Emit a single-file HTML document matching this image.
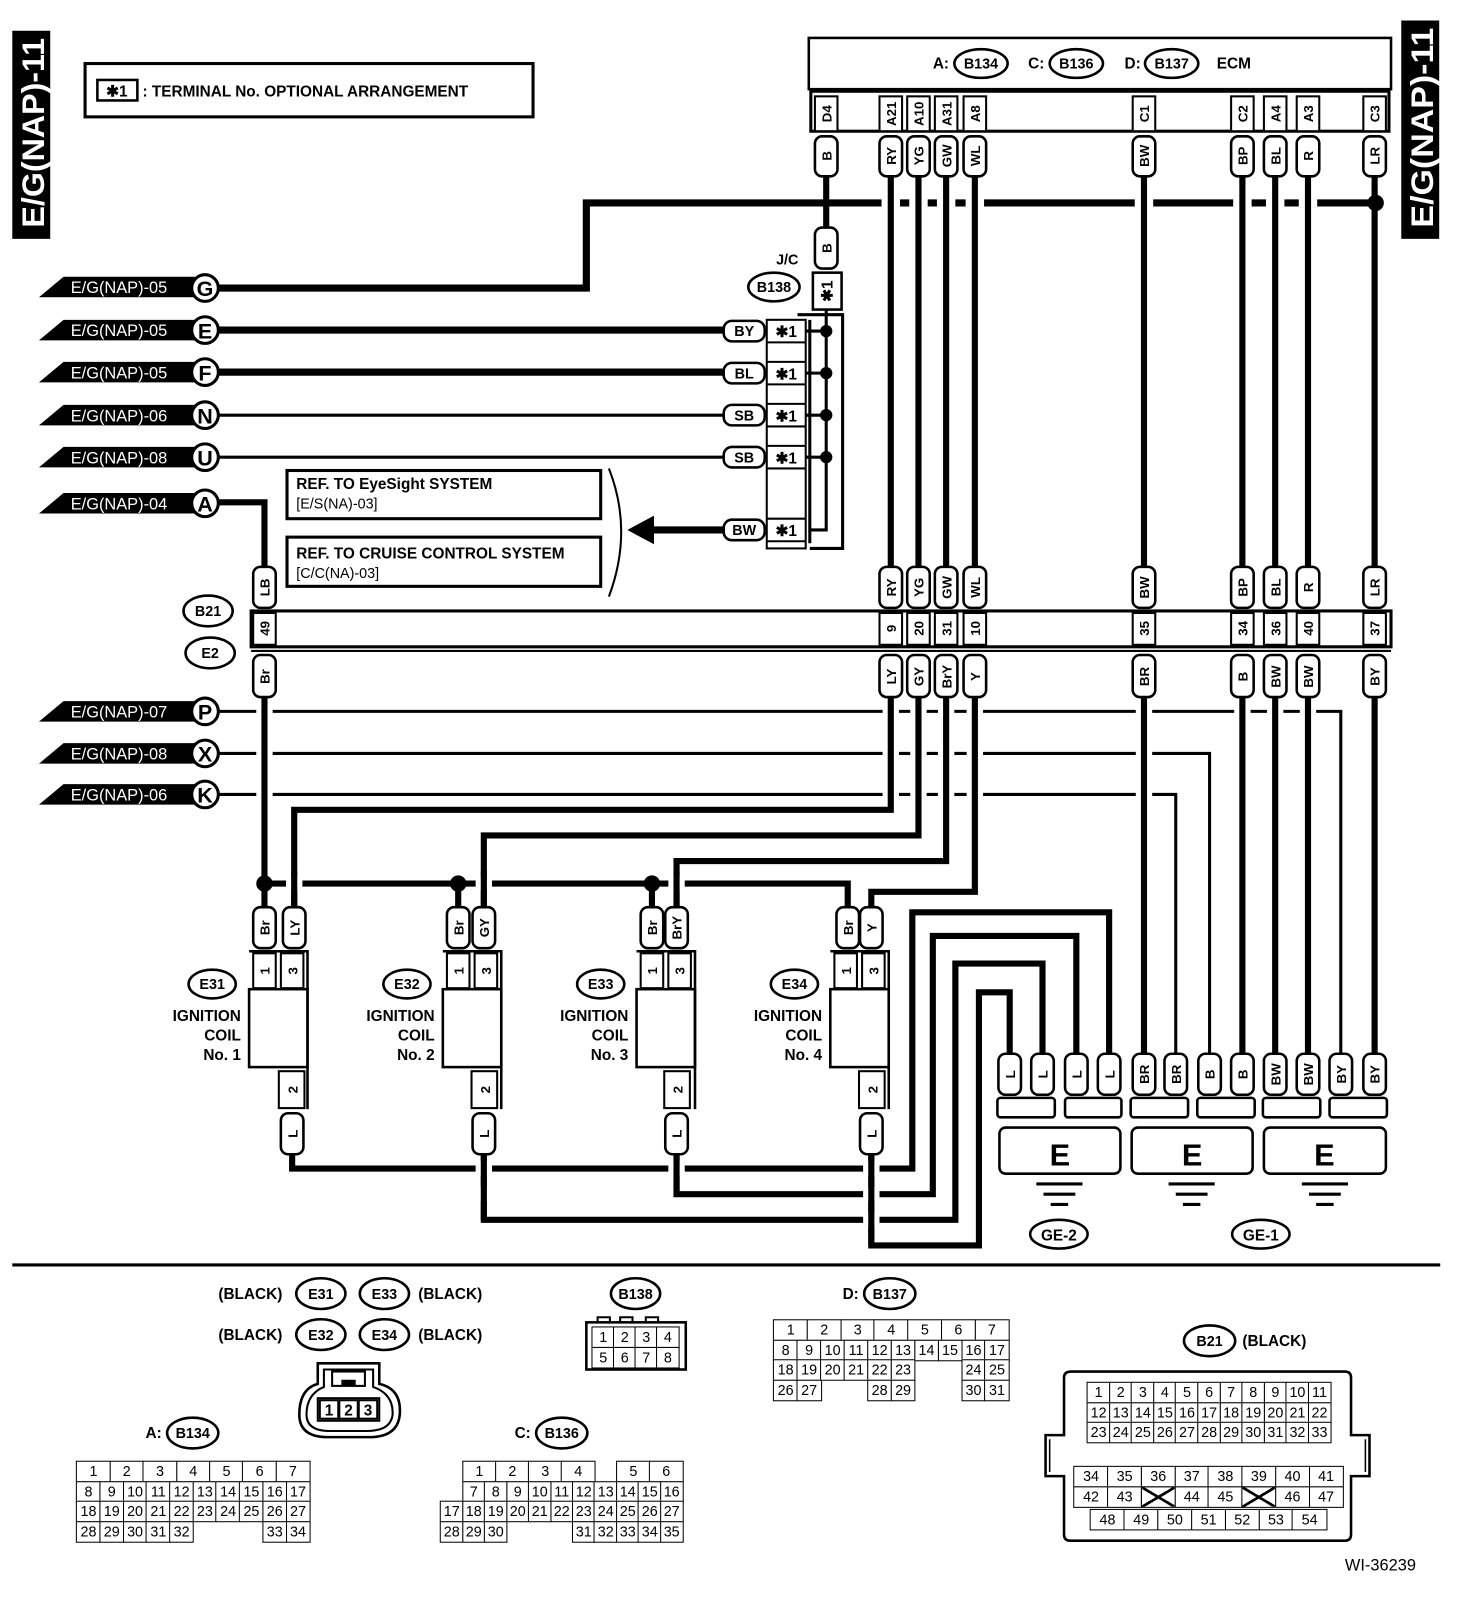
<!DOCTYPE html>
<html><head><meta charset="utf-8">
<style>
html,body{margin:0;padding:0;background:#fff;width:1472px;height:1606px;overflow:hidden}
#w{position:absolute;left:0;top:0;width:1436px;height:1567px;transform:scale(1.02507);transform-origin:0 0}
svg{position:absolute;left:0;top:0}
text{font-family:"Liberation Sans Narrow","Liberation Sans",sans-serif;font-weight:bold;fill:#000}
.p{fill:#fff;stroke:#000;stroke-width:2.5}
.c{fill:#fff;stroke:#000;stroke-width:2}
.k{fill:none;stroke:#000;stroke-width:6}
.n{fill:none;stroke:#000;stroke-width:3}
.m{text-anchor:middle}
.tg{fill:#fff;font-weight:normal;font-size:16px}
.g{position:absolute;font-family:"Liberation Sans Narrow","Liberation Sans",sans-serif;font-size:14px}
.r{display:flex}
.r span{box-sizing:border-box;border:1.5px solid #000;height:21px;text-align:center;line-height:18px;flex:1;margin:0 -0.75px -1.5px -0.75px;background:#fff}
.r span.e{border-color:transparent;background:transparent}
</style></head><body><div id="w">
<svg width="1436" height="1567" viewBox="0 0 1436 1567">
<!-- side tabs -->
<rect x="12" y="30" width="37" height="203" fill="#000"/>
<text transform="translate(43,222) rotate(-90)" style="fill:#fff;font-size:31px" textLength="185" lengthAdjust="spacingAndGlyphs">E/G(NAP)-11</text>
<rect x="1367" y="20" width="37" height="213" fill="#000"/>
<text transform="translate(1398,222) rotate(-90)" style="fill:#fff;font-size:31px" textLength="195" lengthAdjust="spacingAndGlyphs">E/G(NAP)-11</text>
<!-- note -->
<rect x="83" y="62" width="437" height="52" fill="none" stroke="#000" stroke-width="3"/>
<rect x="95" y="78" width="39" height="20" fill="none" stroke="#000" stroke-width="2.5"/>
<text x="114" y="94" class="m" style="font-size:15px">✱1</text>
<text x="139" y="94" style="font-size:15px">: TERMINAL No. OPTIONAL ARRANGEMENT</text>
<!-- ECM -->
<rect x="789" y="37" width="568" height="50" fill="none" stroke="#000" stroke-width="2.5"/>
<text x="910" y="67" style="font-size:15px">A:</text>
<ellipse cx="957" cy="62" rx="26" ry="14" class="p"/><text x="957" y="67" class="m" style="font-size:14px">B134</text>
<text x="1003" y="67" style="font-size:15px">C:</text>
<ellipse cx="1050" cy="62" rx="26" ry="14" class="p"/><text x="1050" y="67" class="m" style="font-size:14px">B136</text>
<text x="1097" y="67" style="font-size:15px">D:</text>
<ellipse cx="1143" cy="62" rx="26" ry="14" class="p"/><text x="1143" y="67" class="m" style="font-size:14px">B137</text>
<text x="1187" y="67" style="font-size:15px">ECM</text>
<rect x="791" y="89" width="564" height="39" fill="none" stroke="#000" stroke-width="3"/>
<g style="font-size:13px">
<rect x="795" y="94" width="22" height="34" class="c"/><text transform="translate(811,111) rotate(-90)" class="m">D4</text>
<rect x="858" y="94" width="22" height="34" class="c"/><text transform="translate(874,111) rotate(-90)" class="m">A21</text>
<rect x="885" y="94" width="22" height="34" class="c"/><text transform="translate(901,111) rotate(-90)" class="m">A10</text>
<rect x="912" y="94" width="22" height="34" class="c"/><text transform="translate(928,111) rotate(-90)" class="m">A31</text>
<rect x="940" y="94" width="22" height="34" class="c"/><text transform="translate(956,111) rotate(-90)" class="m">A8</text>
<rect x="1105" y="94" width="22" height="34" class="c"/><text transform="translate(1121,111) rotate(-90)" class="m">C1</text>
<rect x="1201" y="94" width="22" height="34" class="c"/><text transform="translate(1217,111) rotate(-90)" class="m">C2</text>
<rect x="1233" y="94" width="22" height="34" class="c"/><text transform="translate(1249,111) rotate(-90)" class="m">A4</text>
<rect x="1265" y="94" width="22" height="34" class="c"/><text transform="translate(1281,111) rotate(-90)" class="m">A3</text>
<rect x="1330" y="94" width="22" height="34" class="c"/><text transform="translate(1346,111) rotate(-90)" class="m">C3</text>
</g>
<!-- top bus -->
<path d="M213 281 H572 V198 H1342" class="k" style="stroke-width:7"/>
<g fill="#fff">
<rect x="860" y="190" width="18" height="16"/><rect x="887" y="190" width="18" height="16"/><rect x="914" y="190" width="18" height="16"/><rect x="942" y="190" width="18" height="16"/>
<rect x="1107" y="190" width="18" height="16"/><rect x="1203" y="190" width="18" height="16"/><rect x="1235" y="190" width="18" height="16"/><rect x="1267" y="190" width="18" height="16"/>
</g>
<circle cx="1342" cy="198" r="8"/>
<g class="k">
<path d="M806 172 V222"/>
<path d="M869 172 V553"/><path d="M896 172 V553"/><path d="M923 172 V553"/><path d="M951 172 V553"/>
<path d="M1116 172 V553"/><path d="M1212 172 V553"/><path d="M1244 172 V553"/><path d="M1276 172 V553"/><path d="M1341 172 V553"/>
</g>
<!-- top pills -->
<g style="font-size:13px">
<rect x="795" y="133" width="22" height="39" rx="7" class="p"/><text transform="translate(811,152) rotate(-90)" class="m">B</text>
<rect x="858" y="133" width="22" height="39" rx="7" class="p"/><text transform="translate(874,152) rotate(-90)" class="m">RY</text>
<rect x="885" y="133" width="22" height="39" rx="7" class="p"/><text transform="translate(901,152) rotate(-90)" class="m">YG</text>
<rect x="912" y="133" width="22" height="39" rx="7" class="p"/><text transform="translate(928,152) rotate(-90)" class="m">GW</text>
<rect x="940" y="133" width="22" height="39" rx="7" class="p"/><text transform="translate(956,152) rotate(-90)" class="m">WL</text>
<rect x="1105" y="133" width="22" height="39" rx="7" class="p"/><text transform="translate(1121,152) rotate(-90)" class="m">BW</text>
<rect x="1201" y="133" width="22" height="39" rx="7" class="p"/><text transform="translate(1217,152) rotate(-90)" class="m">BP</text>
<rect x="1233" y="133" width="22" height="39" rx="7" class="p"/><text transform="translate(1249,152) rotate(-90)" class="m">BL</text>
<rect x="1265" y="133" width="22" height="39" rx="7" class="p"/><text transform="translate(1281,152) rotate(-90)" class="m">R</text>
<rect x="1330" y="133" width="22" height="39" rx="7" class="p"/><text transform="translate(1346,152) rotate(-90)" class="m">LR</text>
</g>
<!-- J/C -->
<text x="768" y="258" class="m" style="font-size:14px">J/C</text>
<ellipse cx="755" cy="280" rx="25" ry="14" class="p"/><text x="755" y="285" class="m" style="font-size:14px">B138</text>
<rect x="795" y="222" width="22" height="40" rx="7" class="p"/><text transform="translate(811,242) rotate(-90)" class="m" style="font-size:13px">B</text>
<rect x="793" y="266" width="28" height="36" class="p"/><text transform="translate(812,284) rotate(-90)" class="m" style="font-size:15px">✱1</text>
<path d="M778 307 H822 V535 H790" class="n"/>
<path d="M790 312 V530" class="n"/>
<path d="M806 302 V517 H790" class="n"/>
<g><circle cx="806" cy="323" r="6"/><circle cx="806" cy="364" r="6"/><circle cx="806" cy="405" r="6"/><circle cx="806" cy="446" r="6"/></g>
<g class="n"><path d="M786 323 H806"/><path d="M786 364 H806"/><path d="M786 405 H806"/><path d="M786 446 H806"/></g>
<rect x="748" y="312" width="38" height="223" fill="none" stroke="#000" stroke-width="2"/>
<g fill="none" stroke="#000" stroke-width="2"><path d="M748 334 H786 M748 353 H786 M748 375 H786 M748 394 H786 M748 416 H786 M748 435 H786 M748 457 H786 M748 506 H786 M748 528 H786"/></g>
<g style="font-size:15px" class="m"><text x="767" y="329">✱1</text><text x="767" y="370">✱1</text><text x="767" y="411">✱1</text><text x="767" y="452">✱1</text><text x="767" y="523">✱1</text></g>
<!-- left source lines -->
<path d="M213 322 H706" class="k" style="stroke-width:7"/>
<path d="M213 363 H706" class="k" style="stroke-width:7"/>
<path d="M213 405 H706" class="n"/>
<path d="M213 446 H706" class="n"/>
<path d="M706 517 H636" class="k" style="stroke-width:7"/>
<polygon points="612,517 638,503 638,531"/>
<g style="font-size:14px">
<rect x="706" y="313" width="40" height="20" rx="8" class="p"/><text x="726" y="328" class="m">BY</text>
<rect x="706" y="354" width="40" height="20" rx="8" class="p"/><text x="726" y="369" class="m">BL</text>
<rect x="706" y="395" width="40" height="20" rx="8" class="p"/><text x="726" y="410" class="m">SB</text>
<rect x="706" y="436" width="40" height="20" rx="8" class="p"/><text x="726" y="451" class="m">SB</text>
<rect x="706" y="507" width="40" height="20" rx="8" class="p"/><text x="726" y="522" class="m">BW</text>
</g>
<!-- ref boxes -->
<rect x="280" y="459" width="306" height="47" fill="none" stroke="#000" stroke-width="3"/>
<text x="289" y="477" style="font-size:15px">REF. TO EyeSight SYSTEM</text>
<text x="289" y="496" style="font-size:14px;font-weight:normal">[E/S(NA)-03]</text>
<rect x="280" y="524" width="306" height="48" fill="none" stroke="#000" stroke-width="3"/>
<text x="289" y="545" style="font-size:15px">REF. TO CRUISE CONTROL SYSTEM</text>
<text x="289" y="564" style="font-size:14px;font-weight:normal">[C/C(NA)-03]</text>
<path d="M594 457 Q618 518 594 582" fill="none" stroke="#000" stroke-width="2"/>
<!-- A line -->
<path d="M213 490 H258 V558" class="k"/>
<!-- tags -->
<g>
<polygon points="38,290 62,270 190,270 190,290"/><text x="69" y="286" class="tg">E/G(NAP)-05</text>
<polygon points="38,332 62,312 190,312 190,332"/><text x="69" y="328" class="tg">E/G(NAP)-05</text>
<polygon points="38,373 62,353 190,353 190,373"/><text x="69" y="369" class="tg">E/G(NAP)-05</text>
<polygon points="38,415 62,395 190,395 190,415"/><text x="69" y="411" class="tg">E/G(NAP)-06</text>
<polygon points="38,456 62,436 190,436 190,456"/><text x="69" y="452" class="tg">E/G(NAP)-08</text>
<polygon points="38,501 62,481 190,481 190,501"/><text x="69" y="497" class="tg">E/G(NAP)-04</text>
<polygon points="38,704 62,684 190,684 190,704"/><text x="69" y="700" class="tg">E/G(NAP)-07</text>
<polygon points="38,745 62,725 190,725 190,745"/><text x="69" y="741" class="tg">E/G(NAP)-08</text>
<polygon points="38,785 62,765 190,765 190,785"/><text x="69" y="781" class="tg">E/G(NAP)-06</text>
</g>
<g style="font-size:21px" class="m">
<circle cx="200" cy="281" r="13" class="p" style="stroke-width:3"/><text x="200" y="289">G</text>
<circle cx="200" cy="322" r="13" class="p" style="stroke-width:3"/><text x="200" y="330">E</text>
<circle cx="200" cy="363" r="13" class="p" style="stroke-width:3"/><text x="200" y="371">F</text>
<circle cx="200" cy="405" r="13" class="p" style="stroke-width:3"/><text x="200" y="413">N</text>
<circle cx="200" cy="446" r="13" class="p" style="stroke-width:3"/><text x="200" y="454">U</text>
<circle cx="200" cy="491" r="13" class="p" style="stroke-width:3"/><text x="200" y="499">A</text>
<circle cx="200" cy="694" r="13" class="p" style="stroke-width:3"/><text x="200" y="702">P</text>
<circle cx="200" cy="735" r="13" class="p" style="stroke-width:3"/><text x="200" y="743">X</text>
<circle cx="200" cy="775" r="13" class="p" style="stroke-width:3"/><text x="200" y="783">K</text>
</g>
<!-- B21/E2 band -->
<ellipse cx="203" cy="596" rx="24" ry="15" class="p"/><text x="203" y="601" class="m" style="font-size:14px">B21</text>
<ellipse cx="205" cy="637" rx="24" ry="15" class="p"/><text x="205" y="642" class="m" style="font-size:14px">E2</text>
<rect x="245" y="596" width="1112" height="35" fill="none" stroke="#000" stroke-width="3"/>
<path d="M245 635 H1357" stroke="#000" stroke-width="2"/>
<g style="font-size:13px">
<rect x="247" y="598" width="22" height="31" class="c"/><text transform="translate(263,613) rotate(-90)" class="m">49</text>
<rect x="858" y="598" width="22" height="31" class="c"/><text transform="translate(874,613) rotate(-90)" class="m">9</text>
<rect x="885" y="598" width="22" height="31" class="c"/><text transform="translate(901,613) rotate(-90)" class="m">20</text>
<rect x="912" y="598" width="22" height="31" class="c"/><text transform="translate(928,613) rotate(-90)" class="m">31</text>
<rect x="940" y="598" width="22" height="31" class="c"/><text transform="translate(956,613) rotate(-90)" class="m">10</text>
<rect x="1105" y="598" width="22" height="31" class="c"/><text transform="translate(1121,613) rotate(-90)" class="m">35</text>
<rect x="1201" y="598" width="22" height="31" class="c"/><text transform="translate(1217,613) rotate(-90)" class="m">34</text>
<rect x="1233" y="598" width="22" height="31" class="c"/><text transform="translate(1249,613) rotate(-90)" class="m">36</text>
<rect x="1265" y="598" width="22" height="31" class="c"/><text transform="translate(1281,613) rotate(-90)" class="m">40</text>
<rect x="1330" y="598" width="22" height="31" class="c"/><text transform="translate(1346,613) rotate(-90)" class="m">37</text>
</g>
<!-- thin lines P X K -->
<path d="M213 694 H1308 V1028" class="n"/>
<path d="M213 735 H1180 V1028" class="n"/>
<path d="M213 775 H1147 V1028" class="n"/>
<g fill="#fff">
<rect x="250" y="685" width="16" height="100"/>
<rect x="861" y="685" width="16" height="100"/><rect x="888" y="685" width="16" height="100"/><rect x="915" y="685" width="16" height="100"/><rect x="943" y="685" width="16" height="100"/>
<rect x="1108" y="685" width="16" height="100"/>
<rect x="1204" y="685" width="16" height="20"/><rect x="1236" y="685" width="16" height="20"/><rect x="1268" y="685" width="16" height="20"/>
</g>
<g class="k">
<path d="M258 680 V862"/>
<path d="M869 680 V790 H287 V885"/>
<path d="M896 680 V815 H472 V885"/>
<path d="M923 680 V840 H660 V885"/>
<path d="M951 680 V870 H850 V885"/>
<path d="M1116 680 V1028"/><path d="M1212 680 V1028"/><path d="M1244 680 V1028"/><path d="M1276 680 V1028"/><path d="M1341 680 V1028"/>
</g>
<!-- Br bus -->
<path d="M258 862 H827 V885" class="k"/>
<g fill="#fff"><rect x="279" y="855" width="16" height="14"/><rect x="464" y="855" width="16" height="14"/><rect x="652" y="855" width="16" height="14"/></g>
<path d="M287 850 V885 M472 850 V885 M660 850 V885" class="k"/>
<path d="M258 862 V885 M447 862 V885 M636 862 V885" class="k"/>
<circle cx="258" cy="862" r="8"/><circle cx="447" cy="862" r="8"/><circle cx="636" cy="862" r="8"/>
<!-- B21 pills -->
<g style="font-size:13px">
<rect x="247" y="553" width="22" height="40" rx="7" class="p"/><text transform="translate(263,573) rotate(-90)" class="m">LB</text>
<rect x="858" y="553" width="22" height="40" rx="7" class="p"/><text transform="translate(874,573) rotate(-90)" class="m">RY</text>
<rect x="885" y="553" width="22" height="40" rx="7" class="p"/><text transform="translate(901,573) rotate(-90)" class="m">YG</text>
<rect x="912" y="553" width="22" height="40" rx="7" class="p"/><text transform="translate(928,573) rotate(-90)" class="m">GW</text>
<rect x="940" y="553" width="22" height="40" rx="7" class="p"/><text transform="translate(956,573) rotate(-90)" class="m">WL</text>
<rect x="1105" y="553" width="22" height="40" rx="7" class="p"/><text transform="translate(1121,573) rotate(-90)" class="m">BW</text>
<rect x="1201" y="553" width="22" height="40" rx="7" class="p"/><text transform="translate(1217,573) rotate(-90)" class="m">BP</text>
<rect x="1233" y="553" width="22" height="40" rx="7" class="p"/><text transform="translate(1249,573) rotate(-90)" class="m">BL</text>
<rect x="1265" y="553" width="22" height="40" rx="7" class="p"/><text transform="translate(1281,573) rotate(-90)" class="m">R</text>
<rect x="1330" y="553" width="22" height="40" rx="7" class="p"/><text transform="translate(1346,573) rotate(-90)" class="m">LR</text>
<rect x="247" y="639" width="22" height="41" rx="7" class="p"/><text transform="translate(263,660) rotate(-90)" class="m">Br</text>
<rect x="858" y="639" width="22" height="41" rx="7" class="p"/><text transform="translate(874,660) rotate(-90)" class="m">LY</text>
<rect x="885" y="639" width="22" height="41" rx="7" class="p"/><text transform="translate(901,660) rotate(-90)" class="m">GY</text>
<rect x="912" y="639" width="22" height="41" rx="7" class="p"/><text transform="translate(928,660) rotate(-90)" class="m">BrY</text>
<rect x="940" y="639" width="22" height="41" rx="7" class="p"/><text transform="translate(956,660) rotate(-90)" class="m">Y</text>
<rect x="1105" y="639" width="22" height="41" rx="7" class="p"/><text transform="translate(1121,660) rotate(-90)" class="m">BR</text>
<rect x="1201" y="639" width="22" height="41" rx="7" class="p"/><text transform="translate(1217,660) rotate(-90)" class="m">B</text>
<rect x="1233" y="639" width="22" height="41" rx="7" class="p"/><text transform="translate(1249,660) rotate(-90)" class="m">BW</text>
<rect x="1265" y="639" width="22" height="41" rx="7" class="p"/><text transform="translate(1281,660) rotate(-90)" class="m">BW</text>
<rect x="1330" y="639" width="22" height="41" rx="7" class="p"/><text transform="translate(1346,660) rotate(-90)" class="m">BY</text>
</g>
<!-- ground return wires -->
<g class="k">
<path d="M285 1125 V1140 H890 V890 H1082 V1028"/>
<path d="M660 1125 V1165 H910 V913 H1050 V1028"/>
<path d="M472 1125 V1190 H932 V940 H1017 V1028"/>
<path d="M985 1028 V968 H955 V1215 H850 V1125"/>
</g>
<g fill="#fff">
<rect x="464" y="1133" width="16" height="14"/><rect x="652" y="1133" width="16" height="14"/><rect x="842" y="1133" width="16" height="14"/>
<rect x="464" y="1158" width="16" height="14"/><rect x="842" y="1158" width="16" height="14"/>
<rect x="842" y="1183" width="16" height="14"/>
</g>
<path d="M472 1125 V1190 M660 1125 V1165 M850 1125 V1215" class="k"/>
<!-- coils -->
<g id="coils" style="font-size:13px">
<!-- coil 1 -->
<rect x="247" y="885" width="22" height="40" rx="7" class="p"/><text transform="translate(263,905) rotate(-90)" class="m">Br</text>
<rect x="276" y="885" width="22" height="40" rx="7" class="p"/><text transform="translate(292,905) rotate(-90)" class="m">LY</text>
<path d="M243 928 H300 V1082" fill="none" stroke="#000" stroke-width="2.5"/>
<rect x="247" y="930" width="22" height="34" class="c"/><text transform="translate(263,947) rotate(-90)" class="m">1</text>
<rect x="274" y="930" width="22" height="34" class="c"/><text transform="translate(290,947) rotate(-90)" class="m">3</text>
<rect x="243" y="965" width="57" height="76" fill="none" stroke="#000" stroke-width="2.5"/>
<rect x="272" y="1045" width="25" height="36" class="c"/><text transform="translate(290,1063) rotate(-90)" class="m">2</text>
<rect x="274" y="1086" width="22" height="40" rx="7" class="p"/><text transform="translate(290,1106) rotate(-90)" class="m">L</text>
<!-- coil 2 -->
<rect x="436" y="885" width="22" height="40" rx="7" class="p"/><text transform="translate(452,905) rotate(-90)" class="m">Br</text>
<rect x="461" y="885" width="22" height="40" rx="7" class="p"/><text transform="translate(477,905) rotate(-90)" class="m">GY</text>
<path d="M432 928 H489 V1082" fill="none" stroke="#000" stroke-width="2.5"/>
<rect x="436" y="930" width="22" height="34" class="c"/><text transform="translate(452,947) rotate(-90)" class="m">1</text>
<rect x="463" y="930" width="22" height="34" class="c"/><text transform="translate(479,947) rotate(-90)" class="m">3</text>
<rect x="432" y="965" width="57" height="76" fill="none" stroke="#000" stroke-width="2.5"/>
<rect x="460" y="1045" width="25" height="36" class="c"/><text transform="translate(478,1063) rotate(-90)" class="m">2</text>
<rect x="461" y="1086" width="22" height="40" rx="7" class="p"/><text transform="translate(477,1106) rotate(-90)" class="m">L</text>
<!-- coil 3 -->
<rect x="625" y="885" width="22" height="40" rx="7" class="p"/><text transform="translate(641,905) rotate(-90)" class="m">Br</text>
<rect x="649" y="885" width="22" height="40" rx="7" class="p"/><text transform="translate(665,905) rotate(-90)" class="m">BrY</text>
<path d="M621 928 H678 V1082" fill="none" stroke="#000" stroke-width="2.5"/>
<rect x="625" y="930" width="22" height="34" class="c"/><text transform="translate(641,947) rotate(-90)" class="m">1</text>
<rect x="652" y="930" width="22" height="34" class="c"/><text transform="translate(668,947) rotate(-90)" class="m">3</text>
<rect x="621" y="965" width="57" height="76" fill="none" stroke="#000" stroke-width="2.5"/>
<rect x="648" y="1045" width="25" height="36" class="c"/><text transform="translate(666,1063) rotate(-90)" class="m">2</text>
<rect x="649" y="1086" width="22" height="40" rx="7" class="p"/><text transform="translate(665,1106) rotate(-90)" class="m">L</text>
<!-- coil 4 -->
<rect x="816" y="885" width="22" height="40" rx="7" class="p"/><text transform="translate(832,905) rotate(-90)" class="m">Br</text>
<rect x="839" y="885" width="22" height="40" rx="7" class="p"/><text transform="translate(855,905) rotate(-90)" class="m">Y</text>
<path d="M810 928 H867 V1082" fill="none" stroke="#000" stroke-width="2.5"/>
<rect x="814" y="930" width="22" height="34" class="c"/><text transform="translate(830,947) rotate(-90)" class="m">1</text>
<rect x="841" y="930" width="22" height="34" class="c"/><text transform="translate(857,947) rotate(-90)" class="m">3</text>
<rect x="810" y="965" width="57" height="76" fill="none" stroke="#000" stroke-width="2.5"/>
<rect x="838" y="1045" width="25" height="36" class="c"/><text transform="translate(856,1063) rotate(-90)" class="m">2</text>
<rect x="839" y="1086" width="22" height="40" rx="7" class="p"/><text transform="translate(855,1106) rotate(-90)" class="m">L</text>
</g>
<g style="font-size:15px">
<ellipse cx="207" cy="960" rx="23" ry="14" class="p"/><text x="207" y="965" class="m" style="font-size:14px">E31</text>
<text x="235" y="996" text-anchor="end">IGNITION</text><text x="235" y="1015" text-anchor="end">COIL</text><text x="235" y="1034" text-anchor="end">No. 1</text>
<ellipse cx="397" cy="960" rx="23" ry="14" class="p"/><text x="397" y="965" class="m" style="font-size:14px">E32</text>
<text x="424" y="996" text-anchor="end">IGNITION</text><text x="424" y="1015" text-anchor="end">COIL</text><text x="424" y="1034" text-anchor="end">No. 2</text>
<ellipse cx="586" cy="960" rx="23" ry="14" class="p"/><text x="586" y="965" class="m" style="font-size:14px">E33</text>
<text x="613" y="996" text-anchor="end">IGNITION</text><text x="613" y="1015" text-anchor="end">COIL</text><text x="613" y="1034" text-anchor="end">No. 3</text>
<ellipse cx="775" cy="960" rx="23" ry="14" class="p"/><text x="775" y="965" class="m" style="font-size:14px">E34</text>
<text x="802" y="996" text-anchor="end">IGNITION</text><text x="802" y="1015" text-anchor="end">COIL</text><text x="802" y="1034" text-anchor="end">No. 4</text>
</g>
<!-- ground pills -->
<g style="font-size:13px">
<rect x="974" y="1028" width="22" height="40" rx="7" class="p"/><text transform="translate(990,1048) rotate(-90)" class="m">L</text>
<rect x="1006" y="1028" width="22" height="40" rx="7" class="p"/><text transform="translate(1022,1048) rotate(-90)" class="m">L</text>
<rect x="1039" y="1028" width="22" height="40" rx="7" class="p"/><text transform="translate(1055,1048) rotate(-90)" class="m">L</text>
<rect x="1071" y="1028" width="22" height="40" rx="7" class="p"/><text transform="translate(1087,1048) rotate(-90)" class="m">L</text>
<rect x="1105" y="1028" width="22" height="40" rx="7" class="p"/><text transform="translate(1121,1048) rotate(-90)" class="m">BR</text>
<rect x="1136" y="1028" width="22" height="40" rx="7" class="p"/><text transform="translate(1152,1048) rotate(-90)" class="m">BR</text>
<rect x="1169" y="1028" width="22" height="40" rx="7" class="p"/><text transform="translate(1185,1048) rotate(-90)" class="m">B</text>
<rect x="1201" y="1028" width="22" height="40" rx="7" class="p"/><text transform="translate(1217,1048) rotate(-90)" class="m">B</text>
<rect x="1233" y="1028" width="22" height="40" rx="7" class="p"/><text transform="translate(1249,1048) rotate(-90)" class="m">BW</text>
<rect x="1265" y="1028" width="22" height="40" rx="7" class="p"/><text transform="translate(1281,1048) rotate(-90)" class="m">BW</text>
<rect x="1297" y="1028" width="22" height="40" rx="7" class="p"/><text transform="translate(1313,1048) rotate(-90)" class="m">BY</text>
<rect x="1330" y="1028" width="22" height="40" rx="7" class="p"/><text transform="translate(1346,1048) rotate(-90)" class="m">BY</text>
</g>
<g fill="#fff" stroke="#000" stroke-width="2.5">
<rect x="973" y="1071" width="56" height="19" rx="3"/><rect x="1039" y="1071" width="55" height="19" rx="3"/>
<rect x="1103" y="1071" width="56" height="19" rx="3"/><rect x="1168" y="1071" width="56" height="19" rx="3"/>
<rect x="1232" y="1071" width="56" height="19" rx="3"/><rect x="1297" y="1071" width="56" height="19" rx="3"/>
<rect x="975" y="1100" width="118" height="45" rx="6"/><rect x="1104" y="1100" width="118" height="45" rx="6"/><rect x="1233" y="1100" width="119" height="45" rx="6"/>
</g>
<g style="font-size:30px;font-family:'Liberation Sans',sans-serif" class="m"><text x="1034" y="1137">E</text><text x="1163" y="1137">E</text><text x="1292" y="1137">E</text></g>
<g stroke="#000" stroke-width="3">
<path d="M1011 1155 H1056 M1018 1165 H1049 M1025 1175 H1042"/>
<path d="M1140 1155 H1185 M1147 1165 H1178 M1154 1175 H1171"/>
<path d="M1270 1155 H1315 M1277 1165 H1308 M1284 1175 H1301"/>
</g>
<ellipse cx="1033" cy="1204" rx="28" ry="14" class="p"/><text x="1033" y="1210" class="m" style="font-size:15px">GE-2</text>
<ellipse cx="1230" cy="1204" rx="28" ry="14" class="p"/><text x="1230" y="1210" class="m" style="font-size:15px">GE-1</text>
<!-- separator -->
<path d="M12 1234 H1405" stroke="#000" stroke-width="3"/>
<!-- bottom labels -->
<g style="font-size:15px">
<text x="213" y="1267">(BLACK)</text>
<ellipse cx="313" cy="1262" rx="24" ry="15" class="p"/><text x="313" y="1267" class="m" style="font-size:14px">E31</text>
<ellipse cx="375" cy="1262" rx="24" ry="15" class="p"/><text x="375" y="1267" class="m" style="font-size:14px">E33</text>
<text x="408" y="1267">(BLACK)</text>
<text x="213" y="1307">(BLACK)</text>
<ellipse cx="313" cy="1302" rx="24" ry="15" class="p"/><text x="313" y="1307" class="m" style="font-size:14px">E32</text>
<ellipse cx="375" cy="1302" rx="24" ry="15" class="p"/><text x="375" y="1307" class="m" style="font-size:14px">E34</text>
<text x="408" y="1307">(BLACK)</text>
<ellipse cx="620" cy="1262" rx="24" ry="15" class="p"/><text x="620" y="1267" class="m" style="font-size:14px">B138</text>
<text x="822" y="1267">D:</text>
<ellipse cx="868" cy="1262" rx="25" ry="15" class="p"/><text x="868" y="1267" class="m" style="font-size:14px">B137</text>
<ellipse cx="1180" cy="1308" rx="25" ry="15" class="p"/><text x="1180" y="1313" class="m" style="font-size:14px">B21</text>
<text x="1212" y="1313">(BLACK)</text>
<text x="142" y="1403">A:</text>
<ellipse cx="188" cy="1398" rx="25" ry="15" class="p"/><text x="188" y="1403" class="m" style="font-size:14px">B134</text>
<text x="502" y="1403">C:</text>
<ellipse cx="548" cy="1398" rx="25" ry="15" class="p"/><text x="548" y="1403" class="m" style="font-size:14px">B136</text>
<text x="1312" y="1532" style="font-weight:normal;font-size:16px">WI-36239</text>
</g>
<!-- coil connector icon -->
<path d="M310 1330 H370 V1350 Q392 1355 390 1380 Q388 1402 360 1402 H320 Q292 1402 292 1380 Q292 1355 310 1350 Z" fill="none" stroke="#000" stroke-width="2.5"/>
<path d="M316 1336 H364 V1353 Q384 1360 383 1380 Q381 1396 358 1396 H322 Q299 1396 299 1380 Q299 1360 316 1353 Z" fill="none" stroke="#000" stroke-width="2"/>
<rect x="324" y="1338" width="32" height="14" fill="none" stroke="#000" stroke-width="2"/>
<rect x="333" y="1346" width="14" height="6" fill="#000"/>
<rect x="310" y="1364" width="60" height="22" fill="none" stroke="#000" stroke-width="2"/>
<g style="font-size:15px;font-weight:normal" class="m">
<rect x="312" y="1366" width="18" height="18" class="c"/><text x="321" y="1381">1</text>
<rect x="331" y="1366" width="18" height="18" class="c"/><text x="340" y="1381">2</text>
<rect x="350" y="1366" width="18" height="18" class="c"/><text x="359" y="1381">3</text>
</g>
<!-- B138 outline -->
<rect x="572" y="1290" width="97" height="46" fill="none" stroke="#000" stroke-width="2.5"/>
<path d="M583 1290 V1285 H595 V1290 M605 1290 V1285 H617 V1290 M630 1290 V1285 H642 V1290" fill="none" stroke="#000" stroke-width="2"/>
<!-- B21 outline -->
<path d="M1045 1338 H1312 Q1318 1338 1318 1344 V1400 H1336 V1440 H1318 V1497 Q1318 1503 1312 1503 H1044 Q1038 1503 1038 1497 V1440 H1020 V1400 H1038 V1344 Q1038 1338 1045 1338 Z" fill="none" stroke="#000" stroke-width="2.5"/>
<path d="M1024 1404 V1436 M1332 1404 V1436" stroke="#000" stroke-width="1.5"/>
</svg>

<!-- A:B134 -->
<div class="g" style="left:75px;top:1425px;width:227px">
<div class="r"><span>1</span><span>2</span><span>3</span><span>4</span><span>5</span><span>6</span><span>7</span></div>
<div class="r"><span>8</span><span>9</span><span>10</span><span>11</span><span>12</span><span>13</span><span>14</span><span>15</span><span>16</span><span>17</span></div>
<div class="r"><span>18</span><span>19</span><span>20</span><span>21</span><span>22</span><span>23</span><span>24</span><span>25</span><span>26</span><span>27</span></div>
<div class="r"><span>28</span><span>29</span><span>30</span><span>31</span><span>32</span><span class="e"></span><span class="e"></span><span class="e"></span><span>33</span><span>34</span></div>
</div>
<!-- C:B136 -->
<div class="g" style="left:430px;top:1425px;width:236px">
<div class="r"><span class="e"></span><span style="flex:1.5">1</span><span style="flex:1.5">2</span><span style="flex:1.5">3</span><span style="flex:1.5">4</span><span class="e"></span><span style="flex:1.5">5</span><span style="flex:1.5">6</span></div>
<div class="r"><span class="e"></span><span>7</span><span>8</span><span>9</span><span>10</span><span>11</span><span>12</span><span>13</span><span>14</span><span>15</span><span>16</span></div>
<div class="r"><span>17</span><span>18</span><span>19</span><span>20</span><span>21</span><span>22</span><span>23</span><span>24</span><span>25</span><span>26</span><span>27</span></div>
<div class="r"><span>28</span><span>29</span><span>30</span><span class="e"></span><span class="e"></span><span class="e"></span><span>31</span><span>32</span><span>33</span><span>34</span><span>35</span></div>
</div>
<!-- D:B137 -->
<div class="g" style="left:755px;top:1287px;width:229px">
<div class="r"><span>1</span><span>2</span><span>3</span><span>4</span><span>5</span><span>6</span><span>7</span></div>
<div class="r"><span>8</span><span>9</span><span>10</span><span>11</span><span>12</span><span>13</span><span>14</span><span>15</span><span>16</span><span>17</span></div>
<div class="r"><span>18</span><span>19</span><span>20</span><span>21</span><span>22</span><span>23</span><span class="e"></span><span class="e"></span><span>24</span><span>25</span></div>
<div class="r"><span>26</span><span>27</span><span class="e"></span><span class="e"></span><span>28</span><span>29</span><span class="e"></span><span class="e"></span><span>30</span><span>31</span></div>
</div>
<!-- B138 -->
<div class="g" style="left:578px;top:1294px;width:84px">
<div class="r"><span>1</span><span>2</span><span>3</span><span>4</span></div>
<div class="r"><span>5</span><span>6</span><span>7</span><span>8</span></div>
</div>
<!-- B21 -->
<div class="g" style="left:1061px;top:1348px;width:237px">
<div class="r"><span>1</span><span>2</span><span>3</span><span>4</span><span>5</span><span>6</span><span>7</span><span>8</span><span>9</span><span>10</span><span>11</span></div>
<div class="r"><span>12</span><span>13</span><span>14</span><span>15</span><span>16</span><span>17</span><span>18</span><span>19</span><span>20</span><span>21</span><span>22</span></div>
<div class="r"><span>23</span><span>24</span><span>25</span><span>26</span><span>27</span><span>28</span><span>29</span><span>30</span><span>31</span><span>32</span><span>33</span></div>
</div>
<div class="g" style="left:1048px;top:1430px;width:262px">
<div class="r"><span>34</span><span>35</span><span>36</span><span>37</span><span>38</span><span>39</span><span>40</span><span>41</span></div>
<div class="r"><span>42</span><span>43</span><span style="background:linear-gradient(to top right,#fff 46%,#000 46%,#000 54%,#fff 54%),linear-gradient(to top left,#fff 46%,#000 46%,#000 54%,#fff 54%);background-blend-mode:multiply"></span><span>44</span><span>45</span><span style="background:linear-gradient(to top right,#fff 46%,#000 46%,#000 54%,#fff 54%),linear-gradient(to top left,#fff 46%,#000 46%,#000 54%,#fff 54%);background-blend-mode:multiply"></span><span>46</span><span>47</span></div>
</div>
<div class="g" style="left:1064px;top:1472px;width:230px">
<div class="r"><span>48</span><span>49</span><span>50</span><span>51</span><span>52</span><span>53</span><span>54</span></div>
</div>
</div></body></html>
